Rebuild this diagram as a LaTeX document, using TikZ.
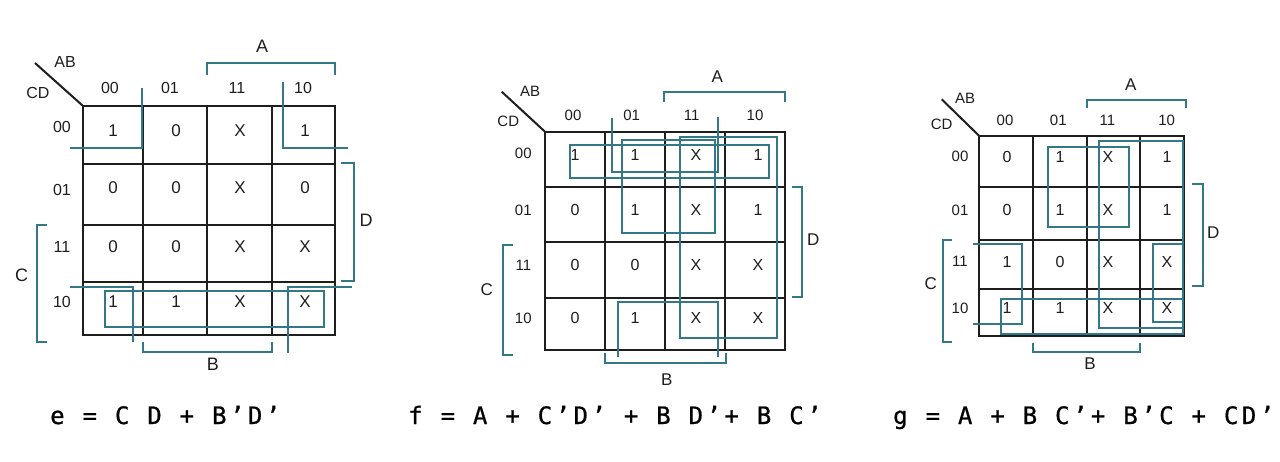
\documentclass[tikz,border=0pt]{standalone}
\usepackage{fontspec}
\setmainfont{Liberation Sans}
\newfontfamily\eqfont[LetterSpace=14.5,FakeBold=0.8]{DejaVu Sans Mono}
\definecolor{teal1}{RGB}{52,120,135}
\definecolor{ink}{RGB}{30,30,30}
\begin{document}
\begin{tikzpicture}[x=1pt,y=-1pt,
  gridl/.style={draw=ink,line width=2pt},
  kloop/.style={draw=teal1,line width=2pt},
  brk/.style={draw=teal1,line width=2pt},
  valA/.style={text=ink,font=\fontsize{17}{17}\selectfont,inner sep=0pt},
  valB/.style={text=ink,font=\fontsize{16}{16}\selectfont,inner sep=0pt},
  labA/.style={text=ink,font=\fontsize{16}{16}\selectfont,inner sep=0pt},
  labB/.style={text=ink,font=\fontsize{15}{15}\selectfont,inner sep=0pt},
  varA/.style={text=ink,font=\fontsize{18}{18}\selectfont,inner sep=0pt},
  varB/.style={text=ink,font=\fontsize{17}{17}\selectfont,inner sep=0pt},
  eqn/.style={text=black,font=\eqfont\fontsize{24}{24}\selectfont,inner sep=0pt,anchor=base west}
]
\useasboundingbox[fill=white] (0,0) rectangle (1280,461);

% ================= Map 1 =================
\draw[gridl] (82.7,105.7) rectangle (335,335);
\foreach \x in {143.3,207.3,271.7} \draw[gridl] (\x,105.7) -- (\x,335);
\foreach \y in {164,225,281.7} \draw[gridl] (82.7,\y) -- (335,\y);
\coordinate (m1d1) at (35,63);
\coordinate (m1d2) at (82.7,105.7);
\draw[ink,line width=2pt] (m1d1) -- (m1d2);
\node[labA] (m1AB) at (65,61.7) {AB};
\node[labA] (m1CD) at (38,93) {CD};
\foreach \x/\t [count=\n] in {110/00,170/01,237/11,303/10}
  \node[labA] (m1col\n) at (\x,88) {\t};
\foreach \y/\t [count=\n] in {127/00,190/01,247/11,302/10}
  \node[labA] (m1row\n) at (62,\y) {\t};
\foreach \x/\y/\t [count=\n] in {
  113/130.7/1,176/130.7/0,240/130.7/X,305/130.7/1,
  113/188/0,176/188/0,240/188/X,305/188/0,
  113/246.7/0,176/246.7/0,240/246.7/X,305/246.7/X,
  113/301.7/1,176/301.7/1,240/301.7/X,305/301.7/X}
  \node[valA] (m1v\n) at (\x,\y) {\t};
% loops
\draw[kloop] (141.7,88) -- (141.7,148.3) -- (70,148.3);
\draw[kloop] (282.7,81.7) -- (282.7,148.3) -- (348,148.3);
\draw[kloop] (70,286.7) -- (133.3,286.7) -- (133.3,341.7);
\draw[kloop] (351.7,286.7) -- (288.3,286.7) -- (288.3,353);
\draw[kloop] (105,290.7) rectangle (324,326.7);
% brackets
\draw[brk] (207,75) -- (207,63.3) -- (335,63.3) -- (335,75);
\node[varA] (m1A) at (262,46.7) {A};
\draw[brk] (340.7,163) -- (354,163) -- (354,280.7) -- (340.7,280.7);
\node[varA] (m1D) at (366,220) {D};
\draw[brk] (46.7,225) -- (37.3,225) -- (37.3,341.7) -- (46.7,341.7);
\node[varA] (m1C) at (21.7,275) {C};
\draw[brk] (143,341.7) -- (143,351.7) -- (272,351.7) -- (272,341.7);
\node[varA] (m1B) at (213,364) {B};

% ================= Map 2 =================
\draw[gridl] (545,131.7) rectangle (785,350);
\foreach \x in {605,665,725} \draw[gridl] (\x,131.7) -- (\x,350);
\foreach \y in {186.7,241.7,298.3} \draw[gridl] (545,\y) -- (785,\y);
\coordinate (m2d1) at (501.7,91.7);
\coordinate (m2d2) at (545,131.7);
\draw[ink,line width=2pt] (m2d1) -- (m2d2);
\node[labB] (m2AB) at (530,91.7) {AB};
\node[labB] (m2CD) at (508.3,121.7) {CD};
\foreach \x/\t [count=\n] in {573/00,631.7/01,691.7/11,755/10}
  \node[labB] (m2col\n) at (\x,115) {\t};
\foreach \y/\t [count=\n] in {153.3/00,210/01,265/11,318.3/10}
  \node[labB] (m2row\n) at (523.3,\y) {\t};
\foreach \x/\y/\t [count=\n] in {
  575/155/1,635/155/1,696/155/X,758/155/1,
  575/210/0,635/210/1,696/210/X,758/210/1,
  575/265/0,635/265/0,696/265/X,758/265/X,
  575/318.3/0,635/318.3/1,696/318.3/X,758/318.3/X}
  \node[valB] (m2v\n) at (\x,\y) {\t};
% loops
\draw[kloop] (570,145) rectangle (769,178.3);
\draw[kloop] (611.7,118.3) -- (611.7,171.7) -- (718.3,171.7) -- (718.3,116.7);
\draw[kloop] (618.3,356.7) -- (618.3,301.7) -- (718.3,301.7) -- (718.3,356.7);
\draw[kloop] (621.7,140) rectangle (715,233.3);
\draw[kloop] (680,136.7) rectangle (776.7,338.3);
% brackets
\draw[brk] (664.3,101.7) -- (664.3,91.7) -- (785,91.7) -- (785,101.7);
\node[varB] (m2A) at (717.3,76.7) {A};
\draw[brk] (791.7,186.7) -- (801.7,186.7) -- (801.7,297.3) -- (791.7,297.3);
\node[varB] (m2D) at (813.3,240) {D};
\draw[brk] (513.3,245) -- (503.3,245) -- (503.3,355) -- (513.3,355);
\node[varB] (m2C) at (486.7,290) {C};
\draw[brk] (605,353.3) -- (605,363.3) -- (726,363.3) -- (726,353.3);
\node[varB] (m2B) at (666.7,380) {B};

% ================= Map 3 =================
\draw[gridl] (979.3,136) rectangle (1184,336);
\foreach \x in {1033.3,1086.7,1140} \draw[gridl] (\x,136) -- (\x,336);
\foreach \y in {186.7,240,289.3} \draw[gridl] (979.3,\y) -- (1184,\y);
\coordinate (m3d1) at (941.7,99.3);
\coordinate (m3d2) at (979.3,136);
\draw[ink,line width=2pt] (m3d1) -- (m3d2);
\node[labB] (m3AB) at (965,98.3) {AB};
\node[labB] (m3CD) at (941.7,124) {CD};
\foreach \x/\t [count=\n] in {1005/00,1058.3/01,1107.3/11,1166.7/10}
  \node[labB] (m3col\n) at (\x,120.7) {\t};
\foreach \y/\t [count=\n] in {156.7/00,210/01,261.7/11,308.3/10}
  \node[labB] (m3row\n) at (960,\y) {\t};
\foreach \x/\y/\t [count=\n] in {
  1007/156.7/0,1060/156.7/1,1108/156.7/X,1167/156.7/1,
  1007/210/0,1060/210/1,1108/210/X,1167/210/1,
  1007/261.7/1,1060/261.7/0,1108/261.7/X,1167/261.7/X,
  1007/308.3/1,1060/308.3/1,1108/308.3/X,1167/308.3/X}
  \node[valB] (m3v\n) at (\x,\y) {\t};
% loops
\draw[kloop] (1047.7,147.3) rectangle (1129.3,227.3);
\draw[kloop] (1099.3,140.7) rectangle (1182.7,328.3);
\draw[kloop] (972.7,244) -- (1021.7,244) -- (1021.7,324) -- (972.7,324);
\draw[kloop] (1182.7,244) -- (1153.3,244) -- (1153.3,321.7) -- (1182.7,321.7);
\draw[kloop] (1000.7,299.3) rectangle (1182.7,334);
% brackets
\draw[brk] (1086.7,108.3) -- (1086.7,100) -- (1186,100) -- (1186,108.3);
\node[varB] (m3A) at (1130.7,85) {A};
\draw[brk] (1191.7,184) -- (1202.7,184) -- (1202.7,286) -- (1191.7,286);
\node[varB] (m3D) at (1213.3,232.7) {D};
\draw[brk] (951.7,240) -- (942.7,240) -- (942.7,341.7) -- (951.7,341.7);
\node[varB] (m3C) at (930.7,284) {C};
\draw[brk] (1033.3,342.7) -- (1033.3,351.7) -- (1140,351.7) -- (1140,342.7);
\node[varB] (m3B) at (1090,363.3) {B};

% ================= Equations =================
\node[eqn] (eqe) at (50,424) {e = C D + B’D’};
\node[eqn] (eqf) at (408,424) {f = A + C’D’ + B D’+ B C’};
\node[eqn] (eqg) at (893,424) {g = A + B C’+ B’C + CD’};
\end{tikzpicture}
\end{document}
